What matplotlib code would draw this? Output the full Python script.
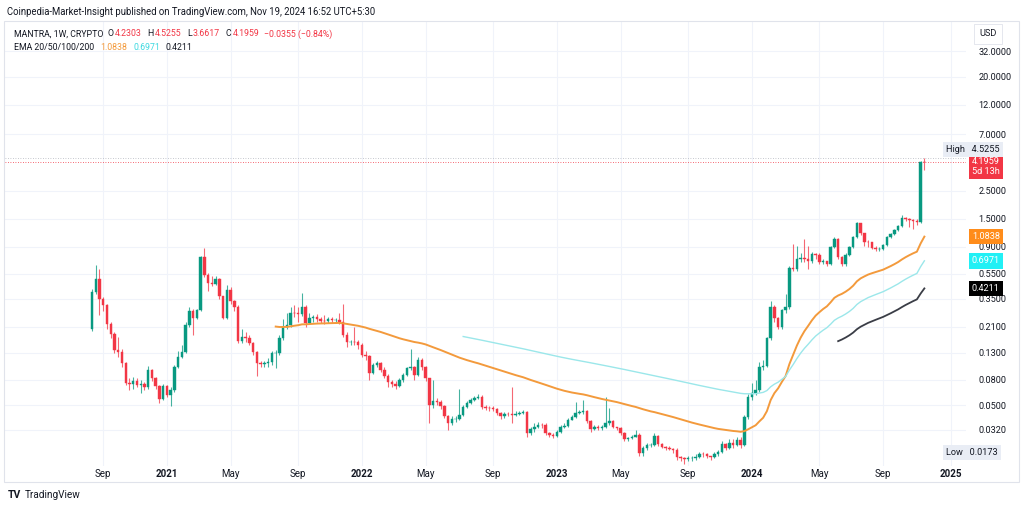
import matplotlib
matplotlib.use('Agg')
import matplotlib.pyplot as plt
import matplotlib.dates as mdates
from matplotlib.patches import Rectangle
from matplotlib.ticker import NullLocator
import numpy as np
import pandas as pd

plt.rcParams['font.family'] = ['Roboto', 'DejaVu Sans']

# ---------------- data (weekly MANTRA candles) ----------------
first_week = '2020-08-17'
first_open = 0.20
closes = [
    0.395, 0.501, 0.347, 0.312, 0.221, 0.183, 0.137, 0.132, 0.108, 0.0752,
    0.0745, 0.078, 0.0725, 0.0738, 0.0699, 0.0953, 0.0824, 0.0712, 0.0562, 0.0712,
    0.0604, 0.0662, 0.1003, 0.1205, 0.132, 0.217, 0.280, 0.246, 0.285, 0.748,
    0.539, 0.466, 0.458, 0.501, 0.367, 0.246, 0.410, 0.335, 0.301, 0.162,
    0.1735, 0.172, 0.156, 0.132, 0.108, 0.106, 0.108, 0.110, 0.130, 0.130,
    0.170, 0.209, 0.217, 0.270, 0.268, 0.265, 0.301, 0.225, 0.246, 0.250,
    0.241, 0.233, 0.232, 0.241, 0.237, 0.238, 0.229, 0.180, 0.159, 0.160,
    0.158, 0.150, 0.125, 0.123, 0.0903, 0.104, 0.108, 0.0953, 0.0854, 0.0765,
    0.0738, 0.0712, 0.0794, 0.0870, 0.0988, 0.1003, 0.0870, 0.114, 0.100, 0.0824,
    0.0504, 0.0542, 0.0532, 0.0495, 0.0412, 0.0363, 0.0390, 0.0392, 0.0420, 0.0486,
    0.0523, 0.0552, 0.0572, 0.0582, 0.0486, 0.0478, 0.0477, 0.0469, 0.0436, 0.0412,
    0.0428, 0.0427, 0.0420, 0.0428, 0.0436, 0.0444, 0.0302, 0.0325, 0.0337, 0.0350,
    0.0348, 0.0302, 0.0291, 0.0286, 0.0308, 0.0337, 0.0344, 0.0383, 0.0405, 0.0436,
    0.0444, 0.0452, 0.0376, 0.0325, 0.0337, 0.0331, 0.0336, 0.0363, 0.0376, 0.0337,
    0.0331, 0.0302, 0.0271, 0.0276, 0.0281, 0.0291, 0.0210, 0.0230, 0.0243, 0.0244,
    0.0286, 0.0248, 0.0234, 0.0230, 0.0226, 0.0222, 0.0195, 0.0191, 0.0188, 0.0190,
    0.0191, 0.0195, 0.0206, 0.0205, 0.0198, 0.0195, 0.0206, 0.0214, 0.0248, 0.0230,
    0.0252, 0.0243, 0.0266, 0.0243, 0.0405, 0.0582, 0.0627, 0.0662, 0.1003, 0.102,
    0.170, 0.301, 0.246, 0.209, 0.285, 0.300, 0.612, 0.601, 0.721, 0.734,
    0.721, 0.695, 0.790, 0.776, 0.683, 0.690, 0.659, 0.897, 1.04, 0.748,
    0.659, 0.776, 0.897, 1.08, 1.39, 1.155, 0.983, 0.98, 0.882, 0.866,
    0.866, 0.931, 1.08, 1.14, 1.22, 1.316, 1.52, 1.495, 1.46, 1.45,
    1.42, 4.2303, 4.1959]
highs = [
    0.42, 0.65, 0.60, 0.36, 0.32, 0.23, 0.19, 0.173, 0.14, 0.11,
    0.083, 0.084, 0.083, 0.08, 0.077, 0.102, 0.097, 0.084, 0.073, 0.074,
    0.072, 0.07, 0.105, 0.135, 0.15, 0.23, 0.30, 0.29, 0.29, 0.76,
    0.88, 0.56, 0.53, 0.53, 0.51, 0.37, 0.45, 0.43, 0.34, 0.31,
    0.20, 0.19, 0.18, 0.16, 0.135, 0.112, 0.113, 0.118, 0.135, 0.138,
    0.18, 0.24, 0.27, 0.30, 0.31, 0.30, 0.39, 0.31, 0.27, 0.26,
    0.265, 0.25, 0.26, 0.25, 0.25, 0.245, 0.27, 0.32, 0.19, 0.165,
    0.21, 0.165, 0.155, 0.135, 0.125, 0.108, 0.112, 0.11, 0.10, 0.088,
    0.08, 0.078, 0.082, 0.09, 0.10, 0.14, 0.103, 0.12, 0.118, 0.103,
    0.083, 0.079, 0.057, 0.055, 0.05, 0.042, 0.041, 0.041, 0.068, 0.05,
    0.054, 0.057, 0.059, 0.062, 0.06, 0.05, 0.049, 0.049, 0.048, 0.044,
    0.044, 0.044, 0.07, 0.045, 0.045, 0.046, 0.045, 0.034, 0.036, 0.037,
    0.036, 0.036, 0.031, 0.030, 0.032, 0.035, 0.036, 0.040, 0.042, 0.053,
    0.046, 0.055, 0.046, 0.038, 0.035, 0.035, 0.035, 0.058, 0.048, 0.038,
    0.034, 0.034, 0.031, 0.028, 0.029, 0.032, 0.030, 0.024, 0.025, 0.025,
    0.030, 0.029, 0.025, 0.024, 0.024, 0.023, 0.023, 0.020, 0.0195, 0.020,
    0.020, 0.0205, 0.0215, 0.0215, 0.021, 0.020, 0.0215, 0.022, 0.026, 0.025,
    0.027, 0.027, 0.028, 0.028, 0.042, 0.062, 0.075, 0.08, 0.11, 0.115,
    0.175, 0.335, 0.31, 0.25, 0.29, 0.38, 0.63, 0.95, 0.91, 0.81,
    1.04, 0.91, 0.82, 0.80, 0.80, 0.72, 0.70, 0.92, 1.07, 1.05,
    0.76, 0.80, 0.92, 1.10, 1.42, 1.40, 1.17, 1.02, 0.99, 0.92,
    0.90, 0.95, 1.10, 1.16, 1.24, 1.34, 1.61, 1.56, 1.52, 1.50,
    1.50, 4.35, 4.5255]
lows = [
    0.195, 0.38, 0.26, 0.28, 0.20, 0.17, 0.13, 0.12, 0.10, 0.072,
    0.066, 0.068, 0.07, 0.063, 0.066, 0.068, 0.078, 0.068, 0.052, 0.055,
    0.058, 0.049, 0.064, 0.098, 0.118, 0.13, 0.21, 0.18, 0.24, 0.28,
    0.52, 0.40, 0.44, 0.45, 0.35, 0.24, 0.24, 0.32, 0.28, 0.155,
    0.155, 0.16, 0.15, 0.125, 0.085, 0.10, 0.10, 0.10, 0.105, 0.098,
    0.125, 0.165, 0.20, 0.21, 0.25, 0.23, 0.255, 0.21, 0.22, 0.23,
    0.23, 0.225, 0.22, 0.225, 0.225, 0.225, 0.22, 0.175, 0.145, 0.15,
    0.15, 0.14, 0.12, 0.115, 0.08, 0.088, 0.10, 0.092, 0.082, 0.07,
    0.07, 0.068, 0.07, 0.077, 0.085, 0.095, 0.08, 0.085, 0.095, 0.078,
    0.036, 0.048, 0.05, 0.047, 0.04, 0.032, 0.035, 0.037, 0.038, 0.041,
    0.048, 0.051, 0.054, 0.056, 0.047, 0.046, 0.045, 0.045, 0.042, 0.039,
    0.04, 0.041, 0.036, 0.041, 0.042, 0.043, 0.028, 0.029, 0.031, 0.033,
    0.033, 0.029, 0.028, 0.0275, 0.028, 0.030, 0.033, 0.034, 0.038, 0.040,
    0.043, 0.043, 0.036, 0.031, 0.032, 0.032, 0.032, 0.033, 0.035, 0.033,
    0.032, 0.029, 0.026, 0.026, 0.027, 0.028, 0.020, 0.020, 0.022, 0.0235,
    0.024, 0.024, 0.023, 0.022, 0.022, 0.021, 0.0185, 0.018, 0.0173, 0.0182,
    0.0182, 0.0185, 0.019, 0.0195, 0.019, 0.0185, 0.019, 0.020, 0.021, 0.022,
    0.0225, 0.023, 0.024, 0.023, 0.024, 0.039, 0.055, 0.06, 0.064, 0.095,
    0.10, 0.165, 0.23, 0.20, 0.20, 0.27, 0.29, 0.58, 0.58, 0.68,
    0.68, 0.60, 0.67, 0.72, 0.66, 0.66, 0.63, 0.65, 0.88, 0.72,
    0.64, 0.64, 0.76, 0.88, 1.05, 1.12, 0.92, 0.90, 0.86, 0.84,
    0.84, 0.85, 0.92, 1.06, 1.12, 1.20, 1.30, 1.44, 1.30, 1.25,
    1.33, 1.40, 3.6617]

price_ticks = [32, 20, 12, 7, 2.5, 1.5, 0.9, 0.55, 0.35, 0.21, 0.13, 0.08, 0.05, 0.032]
time_ticks = ['2020-09-07', '2021-01-04', '2021-05-03', '2021-09-06', '2022-01-03',
              '2022-05-02', '2022-09-05', '2023-01-02', '2023-05-01', '2023-09-04',
              '2024-01-01', '2024-05-06', '2024-09-02', '2025-01-06']
time_labels = ['Sep', '2021', 'May', 'Sep', '2022', 'May', 'Sep', '2023', 'May', 'Sep',
               '2024', 'May', 'Sep', '2025']

ema_lengths = [50, 100, 200]
ema_colors = ['#f39a3c', '#9be7ea', '#3a3d46']
ema_box_colors = ['#ff8c1a', '#22f0f5', '#000000']
ema_last = ['1.0838', '0.6971', '0.4211']
ema_last_vals = [1.0838, 0.6971, 0.4211]

GREEN = '#089981'
RED = '#f23645'
TEXT = '#131722'


def ema(values, n):
    out = np.full(len(values), np.nan)
    out[n - 1] = np.mean(values[:n])
    a = 2.0 / (n + 1)
    for i in range(n, len(values)):
        out[i] = a * values[i] + (1 - a) * out[i - 1]
    return out


W, H = 1024, 509
fig = plt.figure(figsize=(W / 100, H / 100), dpi=100)


def fx(px):
    return px / W


def fy(py):
    return 1 - py / H


ax = fig.add_axes([fx(5), fy(466), fx(966) - fx(5), fy(22) - fy(466)])
ax.set_yscale('log')

dates = pd.date_range(first_week, periods=len(closes), freq='7D')
x = mdates.date2num(dates)
c = np.array(closes)
o = np.array([first_open] + closes[:-1])
colors = np.where(c >= o, GREEN, RED)

ax.vlines(x, lows, highs, colors=colors, lw=0.8, alpha=0.75, zorder=3)
ax.bar(x, np.abs(c - o), bottom=np.minimum(c, o), width=4.6, color=colors,
       edgecolor=colors, linewidth=0.3, zorder=4)

for n, col, lw in zip(ema_lengths, ema_colors, [1.4, 1.0, 1.3]):
    ax.plot(x, ema(c, n), color=col, lw=lw, zorder=5)

# dotted price lines
ax.axhline(4.5255, color='#b2b5be', lw=0.6, ls=(0, (1, 2)), zorder=2)
ax.axhline(4.1959, color=RED, lw=0.6, ls=(0, (1, 2)), zorder=2)

start = dates[0]
ax.set_xlim(mdates.date2num(start - pd.Timedelta(days=23.2 * 7)),
            mdates.date2num(start + pd.Timedelta(days=233.1 * 7)))
ax.set_ylim(0.01655, 54.4)

ax.yaxis.tick_right()
ax.set_yticks(price_ticks)
ax.set_yticklabels([f'{v:.4f}' for v in price_ticks])
ax.yaxis.set_minor_locator(NullLocator())
ax.tick_params(axis='y', length=0, pad=9, labelsize=6.6, labelcolor=TEXT)

ax.set_xticks(mdates.date2num(pd.to_datetime(time_ticks)))
ax.set_xticklabels(time_labels)
ax.tick_params(axis='x', length=0, pad=2, labelsize=7, labelcolor=TEXT)
for lab in ax.get_xticklabels():
    if lab.get_text().isdigit():
        lab.set_fontweight('bold')

ax.grid(True, color='#f0f3fa', lw=0.8, zorder=0)
for s in ax.spines.values():
    s.set_visible(False)

# price-axis labels
ytr = ax.get_yaxis_transform()
axx = lambda px: (px - 5) / 961.0

for txt, val, bc in zip(ema_last, ema_last_vals, ema_box_colors):
    ax.text(axx(972), val, txt, transform=ytr, ha='left', va='center', fontsize=6.6,
            color='white', clip_on=False, zorder=10,
            bbox=dict(boxstyle='square,pad=0.35', fc=bc, ec='none'))

ax.annotate('4.1959\n5d 13h', xy=(axx(972), 4.1959), xycoords=ytr,
            xytext=(0, -4), textcoords='offset pixels', ha='left', va='center',
            fontsize=6.6, color='white', linespacing=1.15, annotation_clip=False,
            bbox=dict(boxstyle='square,pad=0.35', fc=RED, ec='none'), zorder=10)
ax.annotate('High   4.5255', xy=(axx(946), 4.5255), xycoords=ytr,
            xytext=(0, 9), textcoords='offset pixels', ha='left', va='center',
            fontsize=6.6, color=TEXT, annotation_clip=False,
            bbox=dict(boxstyle='square,pad=0.35', fc='#e9edf5', ec='none'), zorder=10)
ax.annotate('Low   0.0173', xy=(axx(946), 0.0173), xycoords=ytr,
            xytext=(0, 11), textcoords='offset pixels', ha='left', va='center',
            fontsize=6.6, color=TEXT, annotation_clip=False,
            bbox=dict(boxstyle='square,pad=0.35', fc='#e9edf5', ec='none'), zorder=10)

# widget frame and header texts
fig.patches.append(Rectangle((fx(4), fy(482)), fx(1019) - fx(4), fy(21) - fy(482),
                             transform=fig.transFigure, fill=False, ec='#e0e3eb', lw=0.8))
fig.text(fx(979), fy(34), 'USD', fontsize=6.6, color=TEXT, va='center', ha='left',
         bbox=dict(boxstyle='square,pad=0.6', fc='white', ec='#e0e3eb', lw=0.6))

fig.text(fx(7), fy(12), 'Coinpedia-Market-Insight published on TradingView.com, Nov 19, 2024 16:52 UTC+5:30',
         fontsize=6.85, color=TEXT, va='center', ha='left')

renderer = fig.canvas.get_renderer()


def text_row(x0, y0, pieces, size):
    # place pieces one after another, gap given in pixels after each piece
    cur = x0
    for txt, col, gap in pieces:
        t = fig.text(fx(cur), fy(y0), txt, fontsize=size, color=col, va='center', ha='left')
        cur += t.get_window_extent(renderer).width + gap


text_row(14, 34, [('MANTRA, 1W, CRYPTO', TEXT, 4), ('O', TEXT, 1), ('4.2303', RED, 6),
                  ('H', TEXT, 1), ('4.5255', RED, 6), ('L', TEXT, 1), ('3.6617', RED, 6),
                  ('C', TEXT, 1), ('4.1959', RED, 5),
                  ('\u22120.0355 (\u22120.84%)', RED, 0)], 6.3)
text_row(14, 47, [('EMA 20/50/100/200', TEXT, 6), ('1.0838', '#f39a3c', 6),
                  ('0.6971', '#3fd9e0', 6), ('0.4211', TEXT, 0)], 6.3)

fig.text(fx(8), fy(495), 'TV', fontsize=7.5, fontweight='bold', color=TEXT, va='center', ha='left')
fig.text(fx(25), fy(495), 'TradingView', fontsize=7.2, color=TEXT, va='center', ha='left')

fig.savefig('out.png', dpi=100, facecolor='white')
